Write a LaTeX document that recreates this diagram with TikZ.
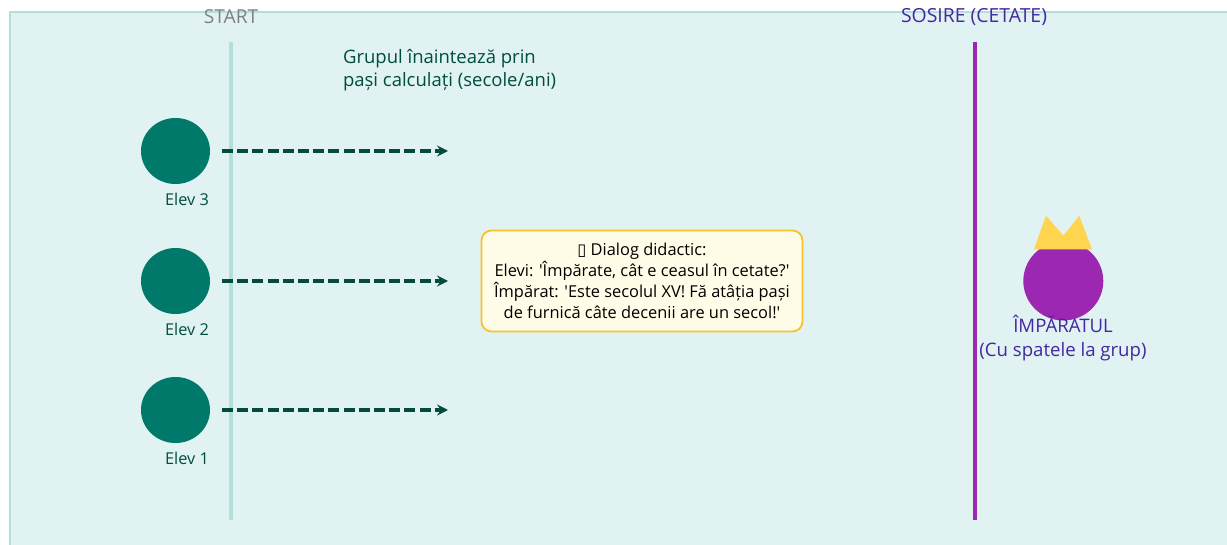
\documentclass[tikz,border=0pt]{standalone}
\usepackage{fontspec}
\setmainfont{Open Sans}
\newfontfamily\boxfont{DejaVu Sans}
\usetikzlibrary{shapes.geometric,arrows.meta}
\definecolor{panelfill}{HTML}{E0F2F1}
\definecolor{paneledge}{HTML}{B2DFDB}
\definecolor{elevfill}{HTML}{00796B}
\definecolor{elevtext}{HTML}{004D40}
\definecolor{regefill}{HTML}{9C27B0}
\definecolor{regetext}{HTML}{4527A0}
\definecolor{crownfill}{HTML}{FFD54F}
\definecolor{notefill}{HTML}{FFFDE7}
\definecolor{noteedge}{HTML}{FBC02D}
\newcommand{\sq}{\textquotesingle}
\tikzset{
  elev/.style={ellipse,fill=elevfill,minimum width=69pt,minimum height=66pt,inner sep=0pt},
  elevlabel/.style={text=elevtext,font=\fontsize{16.3}{19}\selectfont},
  pas/.style={-{Stealth[length=11pt,width=11pt,inset=4pt]},line width=3.2pt,dash pattern=on 11pt off 4.2pt,color=elevtext},
  note/.style={rounded corners=10pt,draw=noteedge,fill=notefill,line width=1.8pt,minimum width=321pt,minimum height=101pt,inner sep=0pt,align=center,font=\fontsize{16.4}{21}\selectfont},
}
\begin{document}
\begin{tikzpicture}[x=1pt,y=-1pt]
\useasboundingbox (0,0) rectangle (1227,545);
\fill[color=white] (0,0) rectangle (1227,545);
\draw[fill=panelfill,draw=paneledge,line width=2pt] (10,12.5) -- (1240,12.5) -- (1240,560) -- (10,560) -- cycle;

% start and arrival lines
\coordinate (starttop) at (231,42);
\coordinate (startbot) at (231,520);
\coordinate (sosiretop) at (975,42);
\coordinate (sosirebot) at (975,520);
\draw[color=paneledge,line width=4pt] (starttop) -- (startbot);
\draw[color=regefill,line width=4pt] (sosiretop) -- (sosirebot);
\node (start) at (231,16.5) {\fontsize{19.2}{22}\selectfont\color{gray}START};
\node (sosire) at (974,17.5) {\fontsize{19.4}{22}\selectfont\color{regetext}SOSIRE (CETATE)};

\node[align=left,anchor=west,text=elevtext,font=\fontsize{18.5}{23.5}\selectfont] (grup) at (339.5,70) {Grupul înaintează prin\\pași calculați (secole/ani)};

% students
\node[elev] (e3) at (175.5,151) {};
\node[elev] (e2) at (175.5,281) {};
\node[elev] (e1) at (175.5,410) {};
\node[elevlabel] (l3) at (187,199) {Elev 3};
\node[elevlabel] (l2) at (187,329) {Elev 2};
\node[elevlabel] (l1) at (187,458) {Elev 1};

\coordinate (a3) at (222,151);
\coordinate (a2) at (222,281);
\coordinate (a1) at (222,410);
\coordinate (b3) at (448,151);
\coordinate (b2) at (448,281);
\coordinate (b1) at (448,410);
\draw[pas] (a3) -- (b3);
\draw[pas] (a2) -- (b2);
\draw[pas] (a1) -- (b1);

\node[note] (dialog) at (642,281) {{\boxfont ▯} Dialog didactic:\\Elevi: \sq Împărate, cât e ceasul în cetate?\sq\\Împărat: \sq Este secolul XV! Fă atâția pași\\de furnică câte decenii are un secol!\sq};

% emperor
\node[ellipse,fill=regefill,minimum width=80pt,minimum height=79pt,inner sep=0pt] (rege) at (1063.3,281) {};
\fill[color=crownfill] (1034,249.3) -- (1046,215.7) -- (1063.3,235.7) -- (1079.3,215.7) -- (1092,249.3) -- cycle;
\node[align=center,text=regetext,font=\fontsize{18.6}{24}\selectfont] (regelabel) at (1063,338) {ÎMPĂRATUL\\(Cu spatele la grup)};
\end{tikzpicture}
\end{document}
